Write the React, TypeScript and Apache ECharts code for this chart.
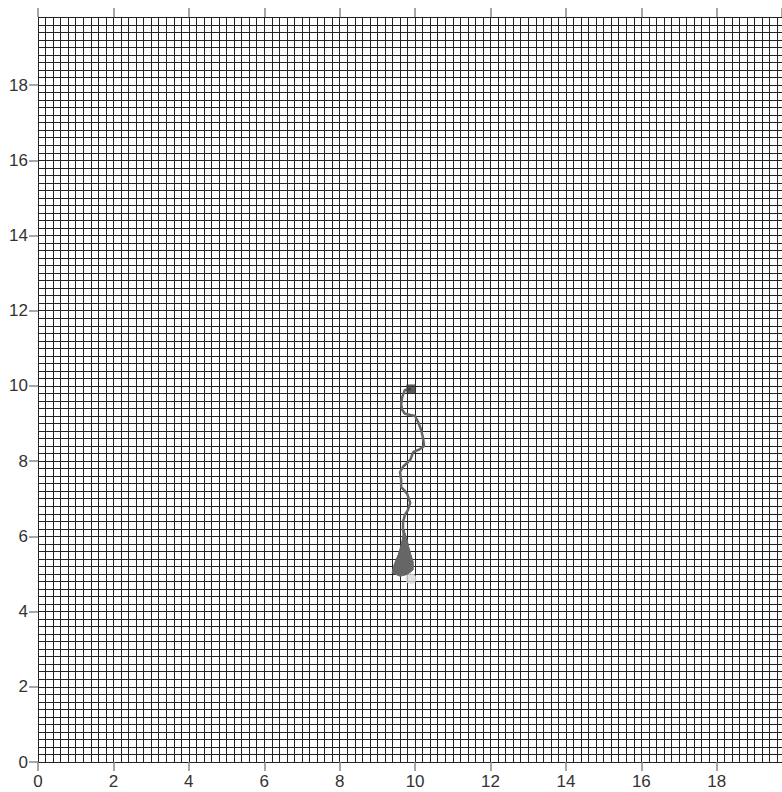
import React, { useEffect, useRef } from "react";
import * as echarts from "echarts";

// Trajectory (x, y) from start (square) to the scribbled end region
const pathX = [9.89, 9.73, 9.66, 9.63, 9.66, 9.73, 9.87, 10.0, 10.08, 10.16, 10.21, 10.24, 10.13, 9.95, 9.87, 9.68, 9.60, 9.63, 9.63, 9.71, 9.79, 9.87, 9.81, 9.73, 9.68, 9.68, 9.73, 9.76];
const pathY = [9.92, 9.89, 9.71, 9.50, 9.36, 9.26, 9.23, 9.20, 9.04, 8.83, 8.62, 8.40, 8.32, 8.24, 8.03, 7.85, 7.71, 7.50, 7.31, 7.23, 7.13, 6.89, 6.70, 6.57, 6.38, 6.17, 5.90, 5.69];

// Dense scribble region near the end, outlined as a polygon
const blobX = [9.71, 9.79, 9.84, 9.89, 9.95, 9.95, 9.81, 9.60, 9.39, 9.44, 9.55, 9.63, 9.68];
const blobY = [6.17, 5.90, 5.69, 5.51, 5.32, 5.11, 4.99, 4.94, 5.03, 5.24, 5.51, 5.77, 6.04];

const startPoint = [9.89, 9.92];
const endPoint = [9.89, 4.87];

const xMax = 19.73;
const yMax = 19.81;
const majorStep = 2;
const minorStep = 0.2;

export default function App() {
  const ref = useRef<HTMLDivElement>(null);
  useEffect(() => {
    if (!ref.current) return;
    const chart = echarts.init(ref.current, null, { renderer: "svg" });
    const font = "Liberation Sans, Arial, sans-serif";
    const tickColor = "#8a8a8a";
    const gridColor = "#222222";
    const pathData = pathX.map((x, i) => [x, pathY[i]]);
    const blobData = blobX.map((x, i) => [x, blobY[i]]);

    const majorX = (pos: string, labels: boolean) => ({
      type: "value",
      min: 0,
      max: xMax,
      interval: majorStep,
      position: pos,
      axisLine: { show: pos === "bottom", lineStyle: { color: "#222", width: 1 } },
      axisTick: { show: true, inside: false, length: 9, lineStyle: { color: tickColor, width: 1.5 } },
      axisLabel: { show: labels, fontSize: 17, color: "#333", fontFamily: font, margin: 11, showMaxLabel: false },
      splitLine: { show: false },
    });
    const minorX = {
      type: "value",
      min: 0,
      max: xMax,
      interval: minorStep,
      position: "bottom",
      axisLine: { show: false },
      axisTick: { show: false },
      axisLabel: { show: false },
      splitLine: { show: true, lineStyle: { color: gridColor, width: 1 } },
    };
    const majorY = {
      type: "value",
      min: 0,
      max: yMax,
      interval: majorStep,
      position: "left",
      axisLine: { show: true, lineStyle: { color: "#222", width: 1 } },
      axisTick: { show: true, inside: false, length: 9, lineStyle: { color: tickColor, width: 1.5 } },
      axisLabel: { show: true, fontSize: 17, color: "#333", fontFamily: font, margin: 10, showMaxLabel: false },
      splitLine: { show: false },
    };
    const minorY = {
      type: "value",
      min: 0,
      max: yMax,
      interval: minorStep,
      position: "left",
      axisLine: { show: false },
      axisTick: { show: false },
      axisLabel: { show: false },
      splitLine: { show: true, lineStyle: { color: gridColor, width: 1 } },
    };

    chart.setOption({
      animation: false,
      backgroundColor: "#ffffff",
      grid: { left: 38, right: 0, top: 17, bottom: 30, containLabel: false },
      xAxis: [majorX("bottom", true), minorX, majorX("top", false)],
      yAxis: [majorY, minorY],
      series: [
        {
          type: "line",
          xAxisIndex: 0,
          yAxisIndex: 0,
          data: pathData,
          showSymbol: false,
          smooth: false,
          lineStyle: { color: "#666666", width: 2.5 },
          z: 3,
        },
        {
          type: "custom",
          xAxisIndex: 0,
          yAxisIndex: 0,
          data: [0],
          renderItem: (_params: any, api: any) => ({
            type: "polygon",
            shape: { points: blobData.map((p) => api.coord(p)) },
            style: { fill: "#666666", stroke: "#666666", lineWidth: 1 },
          }),
          z: 4,
        },
        {
          type: "scatter",
          xAxisIndex: 0,
          yAxisIndex: 0,
          data: [startPoint],
          symbol: "rect",
          symbolSize: 9,
          itemStyle: { color: "#333333" },
          z: 5,
        },
        {
          type: "scatter",
          xAxisIndex: 0,
          yAxisIndex: 0,
          data: [endPoint],
          symbol: "circle",
          symbolSize: 11,
          itemStyle: { color: "#dcdcdc" },
          z: 6,
        },
      ],
    });
    return () => chart.dispose();
  }, []);
  return (
    <div
      ref={ref}
      style={{ position: "fixed", left: 0, top: 0, width: 782, height: 792, background: "#fff" }}
    />
  );
}
